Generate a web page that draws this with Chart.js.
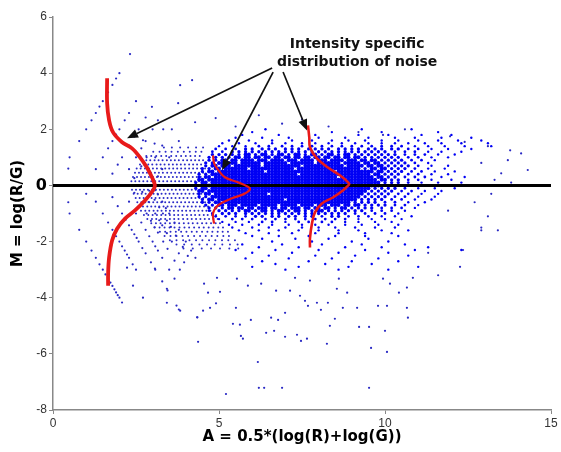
<!DOCTYPE html>
<html><head><meta charset="utf-8">
<script src="https://cdn.jsdelivr.net/npm/chart.js@4.4.0/dist/chart.umd.min.js"></script>
<style>html,body{margin:0;padding:0;background:#fff}#wrap{width:561px;height:452px}</style>
</head><body><div id="wrap"><canvas id="c" width="561" height="452"></canvas></div>
<script>
// ---- Dense cloud: one M level per row, A values (in tenths) along that row ----
const cloudM = [2.0,1.9,1.8,1.7,1.6,1.5,1.4,1.3,1.2,1.1,1.0,0.9,0.8,0.7,0.6,0.5,0.4,0.3,0.2,0.1,0.0,-0.1,-0.2,-0.3,-0.4,-0.5,-0.6,-0.7,-0.8,-0.9,-1.0,-1.1,-1.2,-1.3,-1.4,-1.5,-1.6,-1.7,-1.8,-1.9,-2.0,-2.1,-2.2,-2.3,-2.4,-2.5,-2.6,-2.7,-2.8,-2.9,-3.0];
const cloudA = [
[64,93,108],
[60,84,99,116],
[57,68,79,92,101,111,120],
[55,63,71,80,88,95,103,109,117,126],
[53,59,66,72,78,84,89,94,99,104,110,116,122,129],
[51,56,61,66,70,75,79,83,87,91,95,99,103,107,112,117,123,131],
[50,54,58,62,65,69,72,75,78,81,84,87,90,93,96,99,102,105,109,113,118,124,132],
[49,52,55,58,60,63,65,67,70,72,74,77,79,81,83,86,88,90,92,95,97,99,102,104,107,110,114,119,126],
[48,51,54,56,58,60,62,64,66,68,70,72,74,76,78,80,82,84,86,88,90,92,94,96,98,100,103,106,109,113,117,123],
[48,50,52,54,56,58,59,61,63,64,66,68,69,71,73,74,76,78,79,81,83,84,86,88,89,91,93,95,97,99,101,103,106,109,112,116,121],
[47,49,51,53,55,56,58,59,61,62,64,65,67,68,70,71,73,74,76,77,79,80,82,83,85,86,88,89,91,92,94,96,98,100,102,104,107,110,114,119],
[47,49,51,52,54,55,57,58,59,60,62,63,64,66,67,68,69,71,72,73,75,76,77,78,80,81,82,84,85,86,87,89,90,91,93,94,96,97,99,101,103,105,108,111,115],
[46,48,50,51,53,54,55,57,58,59,60,61,62,64,65,66,67,68,69,70,72,73,74,75,76,77,78,80,81,82,83,84,85,86,88,89,90,91,92,94,95,97,98,100,102,104,106,109,113],
[46,48,49,51,52,53,55,56,57,58,59,60,61,62,64,65,66,67,68,69,70,71,72,73,74,76,77,78,79,80,81,82,83,84,85,86,87,89,90,91,92,93,95,96,98,99,101,103,105,107,110,114,119],
[45,47,49,50,52,53,54,55,56,57,58,60,61,62,63,64,65,66,67,68,69,70,71,72,74,75,76,77,78,79,80,81,82,83,84,85,86,87,88,89,90,91,92,94,96,97,99,100,102,104,106,109,113,118],
[45,47,48,50,51,52,53,54,55,56,57,58,59,60,61,62,63,65,66,67,68,69,70,71,72,73,74,75,76,77,78,79,80,81,82,83,84,86,87,88,89,90,91,92,93,94,95,96,98,99,101,103,105,108,111,115,121],
[44,46,48,49,50,51,52,53,54,55,56,57,58,59,60,61,62,63,64,65,66,67,68,69,70,71,72,73,75,76,77,78,79,80,81,82,83,84,85,86,87,88,89,90,91,92,93,94,95,97,98,100,102,104,107,110,114,119],
[44,46,47,49,50,51,52,53,54,55,56,57,58,59,60,61,62,63,64,65,66,67,68,69,70,71,72,73,74,75,76,77,78,79,80,81,82,83,84,85,87,88,89,90,91,92,93,94,95,96,98,99,101,103,106,109,112,117,124],
[44,45,47,48,49,50,51,52,53,54,55,56,57,58,59,60,61,62,63,64,65,66,67,68,69,70,71,72,73,74,75,76,77,78,79,80,81,82,83,84,85,86,87,88,89,90,91,92,93,94,95,96,97,99,100,102,104,107,110,114,120],
[43,45,46,48,49,50,51,52,53,54,55,56,57,58,59,60,61,62,63,64,65,66,67,68,69,70,71,72,73,74,75,76,77,78,79,80,81,82,83,84,85,86,87,88,89,90,91,92,93,94,95,96,97,98,100,102,104,107,111,116,123],
[43,45,46,47,48,49,50,51,52,53,54,55,56,57,58,59,60,61,62,63,64,65,66,67,68,69,70,71,72,73,74,75,76,77,78,79,80,81,82,83,84,85,86,87,88,89,90,91,92,93,94,95,96,97,98,100,102,105,108,112,117,124],
[43,45,46,48,49,50,51,52,53,54,55,56,57,58,59,60,61,62,63,64,65,66,67,68,69,70,71,72,73,74,75,76,77,78,79,80,81,82,83,84,85,86,87,88,89,90,91,92,93,94,95,97,99,101,103,106,110,115,121],
[44,45,47,48,49,50,51,52,53,54,55,56,57,58,59,60,61,62,63,64,65,66,67,68,69,70,71,72,73,74,75,76,77,78,79,80,81,82,83,84,85,86,87,88,89,90,91,92,93,94,96,98,100,102,105,108,112,117],
[44,46,47,49,50,51,52,53,54,55,56,57,58,59,60,61,62,63,64,66,67,68,69,70,71,72,73,74,75,76,77,78,79,80,81,82,83,84,85,86,87,88,89,90,91,92,93,95,97,99,101,104,107,111,116],
[44,46,48,49,50,51,52,53,54,55,56,57,58,59,60,61,62,63,64,65,66,67,68,69,70,71,72,73,74,75,76,77,78,79,80,81,82,83,84,85,86,87,88,89,90,91,92,94,96,98,100,103,106,110,115],
[45,47,48,50,51,52,53,54,55,56,57,58,59,60,61,62,63,64,65,66,67,68,69,71,72,73,74,75,76,77,78,79,80,81,82,83,84,85,86,87,88,89,90,91,93,95,97,99,102,105,109,114],
[45,47,49,50,52,53,54,55,56,57,58,59,60,61,62,63,64,65,66,67,68,69,70,71,72,73,74,75,76,77,78,79,80,81,82,83,84,85,86,87,88,89,91,93,95,97,100,103,107,112],
[46,48,50,51,53,54,55,57,58,59,60,61,63,64,65,66,67,69,70,71,72,73,75,76,77,78,80,81,82,84,85,86,88,89,91,92,94,96,98,100,103,106,110],
[47,49,51,53,54,56,57,59,60,62,63,64,66,67,69,70,72,73,74,76,77,79,80,82,83,85,87,88,90,92,94,96,99,102,105,109],
[47,50,52,54,56,58,59,61,63,64,66,68,69,71,73,74,76,78,80,81,83,85,87,89,91,93,96,99,102,106],
[48,51,53,55,58,60,62,64,66,68,70,72,74,76,78,80,82,84,86,88,91,94,97,100,104],
[49,52,55,58,61,63,66,68,71,73,76,78,81,84,86,89,92,95,99,103,108],
[50,54,57,60,64,67,70,73,76,79,82,85,88,92,96,100,105],
[51,55,59,63,66,70,74,77,81,84,88,92,97,102],
[53,57,62,66,71,75,79,83,88,93,98,104],
[54,60,65,70,75,80,85,91,97,103],
[56,62,68,74,80,86,92,99,107],
[58,65,72,79,86,94,102],
[60,68,77,85,94,104],
[63,73,83,95],
[66,78,90,101],
[57,69,81,93,106],
[62,74,88,99,113],
[55,67,80,94,109,123],
[60,72,86,101],
[65,79,91,107],
[58,71,84,98],
[63,77,90,104],
[67,82,96],
[60,74,89,110],
[70,86,101]
];

// ---- Low-intensity lattice mesh: one M level per row, A values (in hundredths) ----
const meshM = [1.35,1.2,1.05,0.9,0.75,0.6,0.45,0.3,0.15,-0.15,-0.3,-0.45,-0.6,-0.75,-0.9,-1.05,-1.2,-1.35,-1.5,-1.65,-1.8,-1.95,-2.1,-2.25];
const meshA = [
[334,358,383,407,431,452],
[302,321,339,357,376,394,412,430,447],
[281,296,311,326,341,356,371,386,400,414,428,442],
[268,281,293,306,318,330,343,355,367,379,392,404,416,428,440,452],
[262,274,287,299,312,324,336,349,361,373,385,397,410,422,434,446],
[252,264,277,289,301,313,326,338,350,362,374,386,398,410,422,434,446,458],
[247,259,271,283,295,307,319,331,344,356,368,380,392,404,416,428,440,452],
[241,253,265,277,289,301,313,325,337,349,361,373,385,397,409,421,433,445,457],
[236,248,260,272,284,296,308,320,332,344,356,368,380,392,404,416,428,440,452],
[238,250,262,274,286,298,310,322,334,346,358,370,382,394,406,418,430,442,454],
[243,255,267,279,291,303,315,327,339,351,363,375,387,399,411,423,435,447],
[249,261,273,285,297,309,321,333,345,357,369,381,393,405,417,429,441,453],
[254,266,278,290,302,314,326,338,350,362,374,386,398,410,422,434,446,458],
[259,271,284,296,308,320,333,345,357,369,381,394,406,418,430,442,455,467],
[265,278,290,303,315,327,340,352,364,377,389,401,413,426,438,450,462,474],
[274,287,300,313,326,339,352,365,377,390,403,416,428,441,454,466,479,491],
[284,298,311,325,338,352,365,378,392,405,418,431,444,457,470,483,496],
[296,310,324,338,352,366,380,394,408,421,435,449,462,476,490,503],
[306,321,336,351,366,381,396,410,425,440,454,469,483,498,512],
[322,338,354,370,386,402,418,433,449,465,480,496,511,527],
[336,354,372,390,407,425,443,460,478,495,513,530],
[352,372,392,411,431,450,470,489,509,528,548],
[372,395,418,441,464,487,510,533,556],
[393,421,448,476,503,531,558]
];

// ---- Low-intensity lattice streaks (A, M) ----
const latticeA = [0.5,0.79,1,1.16,1.29,1.4,1.5,1.58,1.66,1.73,1.79,1.85,1.9,1.95,2,2.08,
 1.29,1.5,1.66,1.79,1.9,2,2.08,2.16,2.23,2.29,2.4,2.5,
 1.79,1.95,2.08,2.19,2.29,2.37,2.45,2.52,2.58,2.69,2.79,2.95,3.08,3.29,3.45,3.72,3.79,4.37,
 2.29,2.5,2.66,2.79,2.9,3,3.08,3.16,3.29,3.5,3.66,4.35,
 2.45,2.66,2.82,2.95,3.06,3.16,3.32,3.45,3.66,3.82,
 2.69,2.88,3.08,3.2,3.29,3.43,3.58,3.79,3.95,
 2.9,3.06,3.2,3.31,3.43,3.55,3.7,3.91,4.06,
 3.08,3.16,3.29,3.4,3.5,3.66,3.79,4,4.16,4.29,
 0.5,0.79,1,1.16,1.29,1.4,1.5,1.66,1.79,1.9,2,
 1.29,1.5,1.66,1.79,1.9,2,2.16,2.29,2.5,
 1.79,1.95,2.08,2.29,2.45,2.58,2.79,
 2.29,2.5,2.66,2.79,3,3.16,
 2.45,2.66,2.82,3.06,3.32,
 2.88,3.08,3.29,3.58,
 3.16,3.29,3.5,3.79,
 0.46,0.46,1.0,1.0];
const latticeM = [-1,-1.58,-2,-2.32,-2.58,-2.81,-3,-3.17,-3.32,-3.46,-3.58,-3.7,-3.81,-3.91,-4,-4.17,
 -0.58,-1,-1.32,-1.58,-1.81,-2,-2.17,-2.32,-2.46,-2.58,-2.81,-3,
 -0.42,-0.74,-1,-1.22,-1.42,-1.58,-1.74,-1.87,-2,-2.23,-2.42,-2.74,-3,-3.42,-3.74,-4.28,-4.42,-5.57,
 -0.58,-1,-1.32,-1.58,-1.81,-2,-2.17,-2.32,-2.58,-3,-3.32,-4.7,
 -0.26,-0.68,-1,-1.26,-1.49,-1.68,-2,-2.26,-2.68,-3,
 -0.23,-0.59,-1,-1.24,-1.42,-1.7,-2,-2.42,-2.74,
 -0.19,-0.51,-0.78,-1,-1.25,-1.48,-1.79,-2.19,-2.51,
 -0.17,-0.32,-0.58,-0.81,-1,-1.32,-1.58,-2,-2.32,-2.58,
 1,1.58,2,2.32,2.58,2.81,3,3.32,3.58,3.81,4,
 0.58,1,1.32,1.58,1.81,2,2.32,2.58,3,
 0.42,0.74,1,1.42,1.74,2,2.42,
 0.58,1,1.32,1.58,2,2.32,
 0.26,0.68,1,1.49,2,
 0.59,1,1.42,2,
 0.32,0.58,1,1.58,
 0.6,-0.6,0.0,-0.3];

// ---- Sparse outliers (A, M) ----
const outlierA = [2.32,3.83,4.19,2.98,3.77,4.28,2.71,4.9,5.5,6.2,6.9,7.5,8.3,9.2,9.94,10.6,11.96,12.4,13.1,13.77,14.1,13.7,13.5,13.8,14.3,12.9,13.2,13.1,12.9,13.4,12.35,12.26,11.6,11.3,12.9,11.9,12.7,13.3,
 3.07,3.43,3.83,4.34,4.52,4.73,4.91,4.55,4.67,5.03,4.94,5.51,5.42,5.63,5.66,5.72,5.96,5.54,5.87,6.27,6.42,6.57,6.78,6.99,6.66,6.99,7.35,7.47,7.65,8.25,6.72,7.14,7.44,7.59,7.68,7.95,8.07,8.28,8.34,8.49,8.73,9.16,9.22,9.52,9.58,10.06,10.0,9.79,10.06,10.66,10.69,10.42,8.86,8.55,8.61,7.29,7.74,9.94,10.15,10.66,10.84,5.21,6.17,6.2,6.36,6.9,9.52,2.23,2.41,2.71,3.43];
const outlierM = [4.68,3.57,3.75,2.8,2.93,2.25,1.61,2.4,2.1,2.5,2.2,2.35,2.1,1.9,1.8,2.0,1.75,1.55,1.4,1.25,1.14,0.9,0.43,0.1,0.55,0.8,-0.3,-1.1,-1.5,-1.6,-2.3,-2.9,-3.2,-2.4,-1.6,-0.9,-0.6,0.2,
 -2.96,-3.68,-4.46,-4.7,-4.46,-4.36,-4.2,-3.5,-3.82,-3.79,-3.29,-4.36,-4.93,-4.96,-5.36,-5.46,-4.79,-3.32,-3.57,-3.5,-5.25,-4.71,-4.79,-4.54,-5.18,-5.39,-5.32,-5.54,-5.46,-5.64,-3.75,-3.75,-3.93,-4.11,-4.29,-4.18,-4.43,-4.18,-5.0,-4.75,-4.36,-4.36,-5.04,-5.04,-5.79,-5.93,-5.18,-4.29,-4.29,-4.36,-4.71,-3.82,-3.82,-3.68,-3.32,-3.29,-3.39,-3.32,-3.5,-3.64,-3.29,-7.43,-6.29,-7.21,-7.21,-7.21,-7.21,-2.93,-3.57,-4.0,-4.18];

// ---- Intensity specific noise distributions (red curves) ----
const noise1A = [1.63,1.63,1.69,1.81,2.08,2.38,2.62,2.83,2.98,3.07,3.01,2.77,2.47,2.17,1.93,1.78,1.69,1.66,1.66];
const noise1M = [3.82,2.93,2.32,1.89,1.54,1.32,1.0,0.64,0.29,0.0,-0.18,-0.54,-0.89,-1.18,-1.54,-1.96,-2.57,-3.14,-3.57];
const noise2A = [4.82,4.85,4.94,5.18,5.57,5.93,5.78,5.39,4.97,4.82,4.85];
const noise2M = [1.07,0.8,0.61,0.29,0.11,-0.11,-0.29,-0.46,-0.71,-1.0,-1.36];
const noise3A = [7.68,7.72,7.74,7.95,8.28,8.64,8.89,8.92,8.73,8.43,8.1,7.89,7.8,7.74,7.74];
const noise3M = [2.14,1.7,1.36,0.96,0.64,0.36,0.11,0.04,-0.18,-0.43,-0.64,-0.96,-1.36,-1.89,-2.21];

// ---- Zero reference line ----
const zeroA = [0,15];
const zeroM = [0,0];

// ---- Axis ticks ----
const xTicks = [0,5,10,15];
const yTicks = [-8,-6,-4,-2,0,2,4,6];

// ---- Annotation (text + arrows, in data coordinates) ----
const noteLines = ['Intensity specific','distribution of noise'];
const noteAnchor = {a:9.16, m:[5.04,4.39]};
const arrowFrom = [[6.6,4.18],[6.63,4.04],[6.93,4.04]];
const arrowTo = [[2.23,1.68],[5.09,0.54],[7.65,1.96]];

// ---------------------------------------------------------------
const pair = (xs,ys)=>xs.map((v,i)=>({x:v,y:ys[i]}));
// mark size follows how tightly packed a point's row is (closest neighbour gap)
const gapRadius = g => g<=1 ? 2.0 : g<=2 ? 1.65 : g<=3 ? 1.4 : 1.2;
const cloudPts = [];
cloudM.forEach((m,i)=>{
  const row=cloudA[i];
  row.forEach((a,j)=>{
    const g=Math.min(j>0?a-row[j-1]:99, j<row.length-1?row[j+1]-a:99);
    cloudPts.push({x:a/10,y:m,r:gapRadius(g)});
  });
});
const meshPts = [];
meshM.forEach((m,i)=>meshA[i].forEach(a=>meshPts.push({x:a/100,y:m})));
const sparsePts = pair(latticeA,latticeM).concat(pair(outlierA,outlierM));
const RED = '#e81a1a';

const annot = {
  id:'annot',
  afterDatasetsDraw(chart){
    const {ctx, scales:{x,y}} = chart;
    ctx.save();
    ctx.strokeStyle='#111'; ctx.fillStyle='#111'; ctx.lineWidth=1.7;
    arrowFrom.forEach((f,i)=>{
      const t=arrowTo[i];
      const x1=x.getPixelForValue(f[0]), y1=y.getPixelForValue(f[1]);
      const x2=x.getPixelForValue(t[0]), y2=y.getPixelForValue(t[1]);
      const ang=Math.atan2(y2-y1,x2-x1), L=11, W=4.5;
      const bx=x2-L*Math.cos(ang), by=y2-L*Math.sin(ang);
      ctx.beginPath(); ctx.moveTo(x1,y1); ctx.lineTo(bx,by); ctx.stroke();
      ctx.beginPath(); ctx.moveTo(x2,y2);
      ctx.lineTo(bx-W*Math.sin(ang), by+W*Math.cos(ang));
      ctx.lineTo(bx+W*Math.sin(ang), by-W*Math.cos(ang));
      ctx.closePath(); ctx.fill();
    });
    ctx.font='bold 14px "DejaVu Sans"'; ctx.textAlign='center'; ctx.textBaseline='middle';
    noteLines.forEach((s,i)=>ctx.fillText(s, x.getPixelForValue(noteAnchor.a), y.getPixelForValue(noteAnchor.m[i])));
    ctx.restore();
  }
};

const tickFont = {family:'"Liberation Sans", Arial, sans-serif', size:12};
new Chart(document.getElementById('c'), {
  type:'scatter',
  data:{datasets:[
    {data:pair(noise1A,noise1M), showLine:true, borderColor:RED, borderWidth:3.8, pointRadius:0, tension:0.35, order:0},
    {data:pair(noise2A,noise2M), showLine:true, borderColor:RED, borderWidth:2.2, pointRadius:0, tension:0.35, order:0},
    {data:pair(noise3A,noise3M), showLine:true, borderColor:RED, borderWidth:2.6, pointRadius:0, tension:0.35, order:0},
    {data:pair(zeroA,zeroM), showLine:true, borderColor:'#000', borderWidth:3, pointRadius:0, order:1},
    {data:cloudPts, backgroundColor:'#0000f5', borderWidth:0, pointRadius:c=>c.raw?c.raw.r:1.3, order:3},
    {data:meshPts, backgroundColor:'#2b2bc8', borderWidth:0, pointRadius:1.0, order:4},
    {data:sparsePts, backgroundColor:'#2828c4', borderWidth:0, pointRadius:1.1, order:4}
  ]},
  options:{
    responsive:false, animation:false, devicePixelRatio:1,
    layout:{padding:{left:0,right:10,top:17,bottom:0}},
    plugins:{legend:{display:false}, tooltip:{enabled:false}},
    scales:{
      x:{type:'linear', min:0, max:15,
        afterBuildTicks(s){s.ticks=xTicks.map(v=>({value:v}));},
        afterFit(s){s.height=42;},
        grid:{display:true, drawOnChartArea:false, drawTicks:true, tickLength:4, color:'#888'},
        border:{display:true, color:'#888', width:1.5},
        ticks:{color:'#333', font:tickFont, padding:2, maxRotation:0},
        title:{display:true, text:'A = 0.5*(log(R)+log(G))', color:'#000', font:{family:'"DejaVu Sans"', size:15, weight:'bold'}, padding:{top:0,bottom:6}}
      },
      y:{type:'linear', min:-8, max:6,
        afterBuildTicks(s){s.ticks=yTicks.map(v=>({value:v}));},
        afterFit(s){s.width=53;},
        grid:{display:true, drawOnChartArea:false, drawTicks:true, tickLength:4, color:'#888'},
        border:{display:true, color:'#888', width:1.5},
        ticks:{color:(c)=>c.tick && c.tick.value===0 ? '#000' : '#333',
               font:(c)=>c.tick && c.tick.value===0 ? {family:'"DejaVu Sans"', size:16, weight:'bold'} : tickFont, padding:2},
        title:{display:true, text:'M = log(R/G)', color:'#000', font:{family:'"DejaVu Sans"', size:15, weight:'bold'}, padding:{top:9,bottom:0}}
      }
    }
  },
  plugins:[annot]
});
</script>
</body></html>
